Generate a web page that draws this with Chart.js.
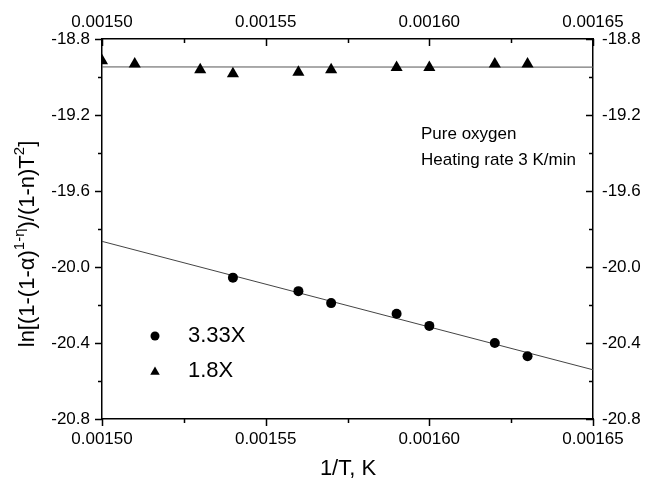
<!DOCTYPE html>
<html>
<head>
<meta charset="utf-8">
<script src="https://cdn.jsdelivr.net/npm/chart.js@4"></script>
<style>
  body { margin: 0; background: #fff; }
  #wrap { width: 646px; height: 478px; }
</style>
</head>
<body>
<div id="wrap"><canvas id="arrhenius" width="646" height="478"></canvas></div>
<script>
// measured points, x = 1/T (1/K)
const invT333 = [0.00154, 0.00156, 0.00157, 0.00159, 0.00160, 0.00162, 0.00163];
const lnY333 = [-20.056, -20.127, -20.19, -20.246, -20.31, -20.40, -20.47];
const invT18 = [0.00150, 0.00151, 0.00153, 0.00154, 0.00156, 0.00157, 0.00159, 0.00160, 0.00162, 0.00163];
const lnY18 = [-18.915, -18.932, -18.962, -18.983, -18.975, -18.962, -18.95, -18.95, -18.932, -18.932];

// straight-line fits, end points only
const fitX = [0.00150, 0.00165];
const fit333 = [-19.865, -20.541];
const fit18 = [-18.947, -18.948];

const seriesNames = ['3.33X', '1.8X'];
const xTicks = [0.00150, 0.00155, 0.00160, 0.00165];
const yTicks = [-20.8, -20.4, -20.0, -19.6, -19.2, -18.8];
const notes = ['Pure oxygen', 'Heating rate 3 K/min'];

const FONT = '"Liberation Sans", Arial, sans-serif';
Chart.defaults.font.family = FONT;
Chart.defaults.color = '#000';

const pts = (xs, ys) => xs.map((x, i) => ({ x: x, y: ys[i] }));
const mids = arr => arr.slice(1).map((v, i) => (v + arr[i]) / 2);

// fixed axis box sizes so the plot frame sits where we want it
const fixWidth = w => s => { s.width = w; };
const fixHeight = h => s => { s.height = h; };

const axisBase = {
  type: 'linear',
  grid: { display: true, drawOnChartArea: false, drawTicks: false },
  border: { display: true, color: '#000', width: 1.5 },
  ticks: { font: { size: 17 }, color: '#000' }
};

function xAxis(pos, pad, h) {
  return Object.assign({}, axisBase, {
    position: pos, min: 0.00150, max: 0.00165,
    afterBuildTicks: s => { s.ticks = xTicks.map(v => ({ value: v })); },
    afterFit: fixHeight(h),
    ticks: Object.assign({}, axisBase.ticks, {
      padding: pad, maxRotation: 0, autoSkip: false,
      callback: v => Number(v).toFixed(5)
    })
  });
}

function yAxis(pos, pad, w) {
  return Object.assign({}, axisBase, {
    position: pos, min: -20.8, max: -18.8,
    afterBuildTicks: s => { s.ticks = yTicks.map(v => ({ value: v })); },
    afterFit: fixWidth(w),
    ticks: Object.assign({}, axisBase.ticks, {
      padding: pad, autoSkip: false,
      callback: v => Number(v).toFixed(1)
    })
  });
}

// tick marks: bottom/left point out, top/right point in
const frameTicks = {
  id: 'frameTicks',
  afterDraw(chart) {
    const ctx = chart.ctx;
    const a = chart.chartArea;
    const sx = chart.scales.x, sy = chart.scales.y;
    const major = 7, minor = 4;
    ctx.save();
    ctx.strokeStyle = '#000';
    ctx.lineWidth = 1.5;
    ctx.beginPath();
    [[xTicks, major], [mids(xTicks), minor]].forEach(([vals, len]) => {
      vals.forEach(v => {
        const px = Math.round(sx.getPixelForValue(v)) + 0.5;
        ctx.moveTo(px, a.bottom); ctx.lineTo(px, a.bottom + len);
        ctx.moveTo(px, a.top); ctx.lineTo(px, a.top + len);
      });
    });
    [[yTicks, major], [mids(yTicks), minor]].forEach(([vals, len]) => {
      vals.forEach(v => {
        const py = Math.round(sy.getPixelForValue(v)) + 0.5;
        ctx.moveTo(a.left, py); ctx.lineTo(a.left - len, py);
        ctx.moveTo(a.right, py); ctx.lineTo(a.right - len, py);
      });
    });
    ctx.stroke();
    ctx.restore();
  }
};

function marker(ctx, shape, x, y, r) {
  ctx.beginPath();
  if (shape === 'circle') {
    ctx.arc(x, y, r, 0, Math.PI * 2);
  } else {
    ctx.moveTo(x, y - r);
    ctx.lineTo(x + r * 0.866, y + r * 0.5);
    ctx.lineTo(x - r * 0.866, y + r * 0.5);
    ctx.closePath();
  }
  ctx.fill();
}

// axis titles, legend and the note in the upper right
const labels = {
  id: 'labels',
  afterDraw(chart) {
    const ctx = chart.ctx;
    ctx.save();
    ctx.fillStyle = '#000';

    ctx.font = '22px ' + FONT;
    ctx.textAlign = 'center';
    ctx.textBaseline = 'middle';
    ctx.fillText('1/T, K', 348, 469);

    // y title with superscripts, rotated
    const parts = [
      ['ln[(1-(1-\u03B1)', false], ['1-\u03B7', true],
      [')/(1-n)T', false], ['2', true], [']', false]
    ];
    const big = '22px ' + FONT, small = '15px ' + FONT;
    let total = 0;
    parts.forEach(([t, sup]) => { ctx.font = sup ? small : big; total += ctx.measureText(t).width; });
    ctx.translate(26, 244);
    ctx.rotate(-Math.PI / 2);
    ctx.textAlign = 'left';
    ctx.textBaseline = 'alphabetic';
    let cx = -total / 2;
    parts.forEach(([t, sup]) => {
      ctx.font = sup ? small : big;
      ctx.fillText(t, cx, sup ? -2 : 8);
      cx += ctx.measureText(t).width;
    });
    ctx.setTransform(1, 0, 0, 1, 0, 0);

    ctx.textAlign = 'left';
    ctx.textBaseline = 'middle';
    ctx.font = '22px ' + FONT;
    marker(ctx, 'circle', 155, 336, 4.5);
    ctx.fillText(seriesNames[0], 188, 336);
    marker(ctx, 'triangle', 155, 372, 5.5);
    ctx.fillText(seriesNames[1], 188, 371);

    ctx.font = '17px ' + FONT;
    ctx.fillText(notes[0], 421, 134);
    ctx.fillText(notes[1], 421, 160);
    ctx.restore();
  }
};

new Chart(document.getElementById('arrhenius'), {
  type: 'scatter',
  data: {
    datasets: [
      {
        label: seriesNames[0], data: pts(invT333, lnY333),
        xAxisID: 'x', yAxisID: 'y',
        pointStyle: 'circle', pointRadius: 5,
        backgroundColor: '#000', borderColor: '#000', borderWidth: 0
      },
      {
        label: seriesNames[1], data: pts(invT18, lnY18),
        xAxisID: 'x', yAxisID: 'y', clip: 0,
        pointStyle: 'triangle', pointRadius: 7,
        backgroundColor: '#000', borderColor: '#000', borderWidth: 0
      },
      {
        label: 'fit 3.33X', data: pts(fitX, fit333),
        xAxisID: 'x', yAxisID: 'y', showLine: true, pointRadius: 0,
        borderColor: '#444', borderWidth: 1
      },
      {
        label: 'fit 1.8X', data: pts(fitX, fit18),
        xAxisID: 'x', yAxisID: 'y', showLine: true, pointRadius: 0,
        borderColor: '#555', borderWidth: 1
      }
    ]
  },
  options: {
    responsive: false,
    animation: false,
    layout: { padding: 0 },
    plugins: { legend: { display: false }, tooltip: { enabled: false } },
    scales: {
      x: xAxis('bottom', 10, 59),
      x2: xAxis('top', 6, 39),
      y: yAxis('left', 12, 102),
      y2: yAxis('right', 9, 53)
    }
  },
  plugins: [frameTicks, labels]
});
</script>
</body>
</html>
